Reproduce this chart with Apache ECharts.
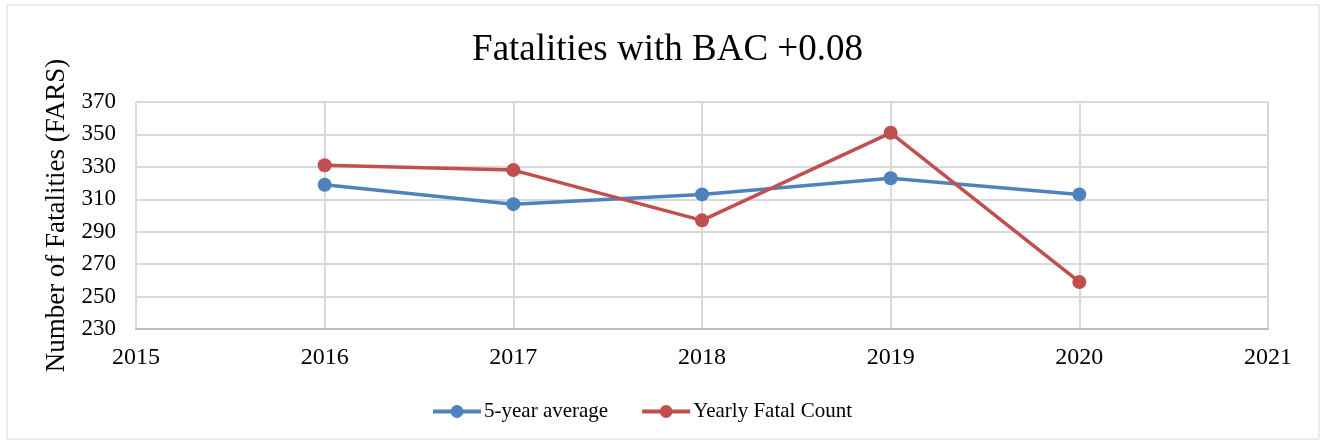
<!DOCTYPE html>
<html>
<head>
<meta charset="utf-8">
<script src="https://cdn.jsdelivr.net/npm/echarts@6/dist/echarts.min.js"></script>
<style>
  html, body { margin: 0; padding: 0; background: #fff; }
  #chart { width: 1335px; height: 445px; }
</style>
</head>
<body>
<div id="chart"></div>
<script>
const years = [2016, 2017, 2018, 2019, 2020];
const fiveYearAvg = [319, 307, 313, 323, 313];
const yearlyCount = [331, 328, 297, 351, 259];

const font = "'Liberation Serif', 'Times New Roman', serif";
const chart = echarts.init(document.getElementById("chart"));

const pairs = (vals) => years.map((y, i) => [y, vals[i]]);

chart.setOption({
  animation: false,
  textStyle: { fontFamily: font, color: "#000" },
  title: {
    text: "Fatalities with BAC +0.08",
    left: "center",
    top: 27,
    textStyle: { fontFamily: font, fontSize: 37, fontWeight: "normal", color: "#000" },
  },
  graphic: [
    {
      type: "rect",
      shape: { x: 7, y: 5, width: 1312, height: 434 },
      style: { fill: "none", stroke: "#d9d9d9", lineWidth: 1 },
      silent: true,
    },
  ],
  legend: {
    bottom: 18,
    left: 426,
    itemWidth: 48,
    itemHeight: 16,
    itemGap: 32,
    lineStyle: { width: 4 },
    textStyle: { fontFamily: font, fontSize: 21, color: "#000", padding: [0, 0, 0, -2] },
    data: ["5-year average", "Yearly Fatal Count"],
  },
  grid: { left: 136, right: 67, top: 102, bottom: 116 },
  xAxis: {
    type: "value",
    min: 2015,
    max: 2021,
    interval: 1,
    axisLine: { show: true, lineStyle: { color: "#bfbfbf", width: 2 } },
    axisTick: { show: false },
    axisLabel: { fontFamily: font, fontSize: 24, color: "#000", margin: 17, formatter: (v) => String(v) },
    splitLine: { show: true, lineStyle: { color: "#d9d9d9", width: 2 } },
  },
  yAxis: {
    type: "value",
    min: 230,
    max: 370,
    interval: 20,
    name: "Number of Fatalities (FARS)",
    nameLocation: "middle",
    nameGap: 61,
    nameTextStyle: { fontFamily: font, fontSize: 27, color: "#000" },
    axisLine: { show: false },
    axisTick: { show: false },
    axisLabel: { fontFamily: font, fontSize: 23, color: "#000", margin: 20 },
    splitLine: { show: true, lineStyle: { color: "#d9d9d9", width: 2 } },
  },
  series: [
    {
      name: "5-year average",
      type: "line",
      data: pairs(fiveYearAvg),
      color: "#4f81bd",
      symbol: "circle",
      symbolSize: 14,
      lineStyle: { width: 3.5 },
    },
    {
      name: "Yearly Fatal Count",
      type: "line",
      data: pairs(yearlyCount),
      color: "#c0504d",
      symbol: "circle",
      symbolSize: 14,
      lineStyle: { width: 3.5 },
    },
  ],
});
</script>
</body>
</html>
